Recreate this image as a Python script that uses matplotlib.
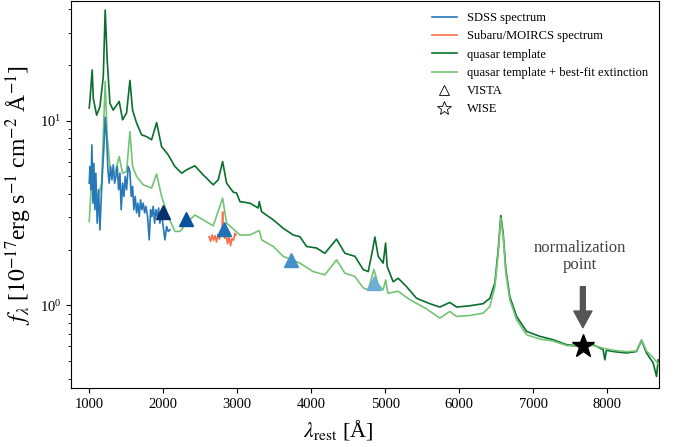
import numpy as np
import matplotlib
matplotlib.use("Agg")
import matplotlib.pyplot as plt
from matplotlib.lines import Line2D

plt.rcParams['font.family'] = ['Liberation Serif', 'DejaVu Serif']
plt.rcParams['mathtext.fontset'] = 'stix'

# --- quasar template (dark green) ---
tmpl_wave = [1000, 1010, 1040, 1055, 1100, 1145, 1190, 1216, 1243, 1280, 1325, 1405, 1451,
             1505, 1550, 1586, 1640, 1708, 1775, 1843, 1911, 1978, 2068, 2158, 2249, 2316,
             2428, 2541, 2676, 2744, 2803, 2857, 2946, 2992, 3037, 3172, 3284, 3298, 3330,
             3487, 3622, 3757, 3847, 3938, 4073, 4185, 4343, 4456, 4591, 4703, 4771, 4830,
             4861, 4906, 4973, 5006, 5027, 5108, 5176, 5289, 5424, 5600, 5739, 5874, 5965,
             6145, 6325, 6415, 6483, 6528, 6563, 6595, 6631, 6685, 6776, 6911, 7091, 7271,
             7451, 7662, 7811, 7946, 7969, 7990, 8081, 8262, 8397, 8465, 8532, 8622, 8668, 8690]
tmpl_flux = [11.7, 12.9, 18.8, 13.2, 10.7, 11.9, 17.3, 39.7, 21.3, 12.4, 11.4, 12.7, 10.1,
             11.0, 16.5, 11.4, 9.7, 8.37, 8.19, 7.87, 9.75, 7.23, 6.52, 5.64, 5.19, 5.41,
             5.69, 5.08, 4.49, 4.78, 6.0, 4.58, 4.10, 4.05, 3.64, 3.57, 3.36, 3.64, 3.21,
             2.90, 2.61, 2.40, 2.35, 2.08, 2.04, 1.91, 2.28, 1.91, 1.84, 1.56, 1.52, 1.99,
             2.34, 1.84, 1.69, 2.17, 1.62, 1.34, 1.40, 1.26, 1.09, 1.02, 0.977, 1.035, 0.977,
             0.993, 1.019, 1.09, 1.32, 2.0, 3.06, 2.45, 1.56, 1.11, 0.869, 0.721, 0.678, 0.650,
             0.611, 0.598, 0.611, 0.574, 0.506, 0.570, 0.561, 0.551, 0.561, 0.644, 0.551, 0.487, 0.411, 0.506]

# --- quasar template + best-fit extinction (light green) ---
ext_wave = [1000, 1020, 1040, 1077, 1122, 1167, 1216, 1243, 1289, 1347, 1405, 1451, 1505,
            1550, 1586, 1640, 1730, 1843, 1911, 1978, 2068, 2158, 2226, 2316, 2428, 2541,
            2676, 2803, 2857, 2901, 3037, 3172, 3298, 3330, 3487, 3622, 3847, 4027, 4185,
            4343, 4456, 4591, 4703, 4771, 4848, 4906, 4973, 5006, 5037, 5176, 5334, 5550,
            5739, 5874, 5965, 6145, 6325, 6415, 6483, 6528, 6563, 6595, 6631, 6685, 6776,
            6911, 7091, 7271, 7451, 7662, 7811, 7946, 8081, 8262, 8397, 8465, 8532, 8622, 8690]
ext_flux = [2.84, 3.88, 5.64, 4.22, 3.88, 4.58, 16.3, 8.2, 5.19, 5.19, 6.38, 5.19, 5.30,
            8.72, 5.64, 4.98, 4.49, 4.31, 5.14, 3.88, 3.02, 2.51, 2.51, 2.78, 3.08, 2.90,
            2.69, 3.80, 2.78, 2.69, 2.40, 2.40, 2.54, 2.26, 2.08, 1.84, 1.69, 1.52, 1.46,
            1.76, 1.49, 1.43, 1.24, 1.21, 1.56, 1.29, 1.21, 1.37, 1.16, 1.19, 1.07, 0.96,
            0.851, 0.925, 0.869, 0.879, 0.906, 0.984, 1.26, 1.91, 2.97, 2.36, 1.49, 1.07, 0.834,
            0.692, 0.655, 0.640, 0.605, 0.595, 0.605, 0.585, 0.570, 0.560, 0.565, 0.650, 0.565, 0.52, 0.48]

# --- SDSS spectrum ---
sdss_wave = [1000, 1010, 1023, 1036, 1050, 1063, 1077, 1090, 1108, 1127, 1145, 1163, 1181,
             1199, 1216, 1235, 1253, 1270, 1289, 1307, 1325, 1343, 1361, 1379, 1397, 1415,
             1432, 1451, 1469, 1487, 1505, 1527, 1550, 1568, 1586, 1604, 1622, 1640, 1658,
             1676, 1694, 1712, 1730, 1749, 1766, 1789, 1811, 1830, 1847, 1865, 1884, 1901,
             1919, 1938, 1955, 1978, 2000, 2023, 2046, 2068, 2091]
sdss_flux = [4.58, 5.64, 4.22, 7.38, 3.57, 5.87, 3.29, 5.19, 2.78, 4.22, 2.56, 3.88, 5.41,
             7.23, 10.4, 8.19, 5.41, 4.58, 5.64, 4.78, 5.76, 4.58, 4.98, 5.64, 4.22, 5.19,
             3.29, 4.58, 3.88, 4.98, 4.22, 5.64, 5.30, 3.88, 4.40, 3.29, 3.88, 3.16, 3.57,
             3.02, 3.72, 3.29, 3.57, 3.16, 3.43, 3.02, 2.26, 3.29, 3.02, 3.43, 2.78, 3.29,
             3.02, 3.36, 2.78, 3.16, 2.67, 2.26, 2.67, 2.51, 2.56]

# --- Subaru/MOIRCS spectrum ---
moircs_wave = [2620, 2640, 2660, 2680, 2700, 2720, 2740, 2760, 2780, 2795, 2803, 2810, 2830,
               2850, 2870, 2890, 2910, 2930, 2950, 2970, 2985]
moircs_flux = [2.35, 2.22, 2.40, 2.25, 2.38, 2.20, 2.42, 2.28, 2.45, 2.60, 3.20, 2.50, 2.30,
               2.40, 2.15, 2.35, 2.10, 2.30, 2.25, 2.45, 2.40]

# --- photometry ---
vista_wave = [1992, 2303, 2820, 3722, 4851]
vista_flux = [3.2, 2.94, 2.58, 1.76, 1.32]
vista_colors = ['#08306b', '#08519c', '#2171b5', '#4292c6', '#6baed6']
wise_wave = [7672]
wise_flux = [0.598]

c_sdss = '#2878b8'
c_moircs = '#f8704a'
c_dark = '#0a6e2e'
c_light = '#74c476'

fig = plt.figure(figsize=(6.8, 4.47), dpi=100)
ax = fig.add_axes([0.104, 0.131, 0.865, 0.867])

ax.plot(tmpl_wave, tmpl_flux, color=c_dark, lw=1.2, zorder=2)
ax.plot(ext_wave, ext_flux, color=c_light, lw=1.2, zorder=3)
ax.plot(sdss_wave, sdss_flux, color=c_sdss, lw=1.2, zorder=4)
ax.plot(moircs_wave, moircs_flux, color=c_moircs, lw=1.2, zorder=4)

for w, f, c in zip(vista_wave, vista_flux, vista_colors):
    ax.plot(w, f, marker='^', ms=10, color=c, ls='none', zorder=6)
ax.plot(wise_wave, wise_flux, marker='*', ms=17, color='black', ls='none', zorder=7)

# arrow pointing at the normalization point
ax.annotate('', xy=(wise_wave[0], 0.755), xytext=(wise_wave[0], 1.26),
            arrowprops=dict(width=3.5, headwidth=13, headlength=12,
                            color='#555555', shrink=0))
ax.text(7631, 1.83, 'normalization\npoint', ha='center', va='center',
        fontsize=12, color='#444444', linespacing=1.1)

ax.set_yscale('log')
ax.set_xlim(750, 8700)
ax.set_ylim(0.354, 44.5)
ax.set_xticks([1000, 2000, 3000, 4000, 5000, 6000, 7000, 8000])
ax.tick_params(labelsize=10.5)

ax.set_xlabel(r'$\lambda_{\rm rest}$ [Å]', fontsize=16)
ax.xaxis.set_label_coords(0.455, -0.075)
ax.set_ylabel(r'$f_\lambda$ [$10^{-17}$erg s$^{-1}$ cm$^{-2}$ Å$^{-1}$]', fontsize=17)

handles = [
    Line2D([], [], color=c_sdss, lw=1.2),
    Line2D([], [], color=c_moircs, lw=1.2),
    Line2D([], [], color=c_dark, lw=1.2),
    Line2D([], [], color=c_light, lw=1.2),
    Line2D([], [], marker='^', ls='none', mfc='none', mec='black', mew=0.6, ms=7),
    Line2D([], [], marker='*', ls='none', mfc='none', mec='black', mew=0.6, ms=10),
]
labels = ['SDSS spectrum', 'Subaru/MOIRCS spectrum', 'quasar template',
          'quasar template + best-fit extinction', 'VISTA', 'WISE']
ax.legend(handles, labels, loc='upper right', frameon=False, fontsize=9)

fig.savefig('out.png', dpi=100)
